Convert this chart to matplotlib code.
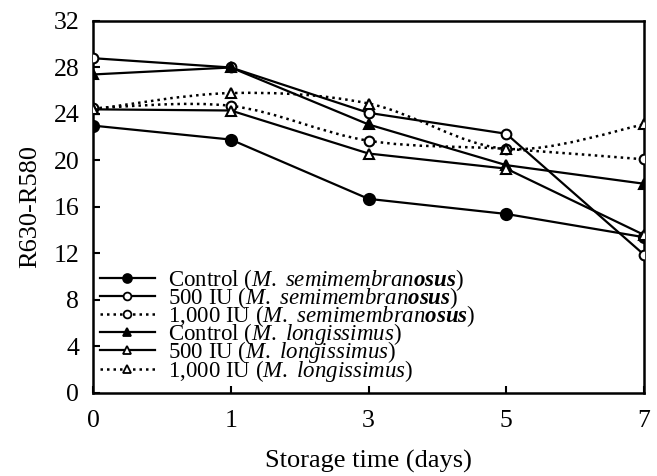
import numpy as np
import matplotlib.pyplot as plt
from matplotlib.path import Path
from matplotlib.patches import PathPatch
from matplotlib.lines import Line2D

plt.rcParams['font.family'] = 'Liberation Serif'
plt.rcParams['mathtext.fontset'] = 'custom'
plt.rcParams['mathtext.rm'] = 'Liberation Serif'
plt.rcParams['mathtext.it'] = 'Liberation Serif:italic'
plt.rcParams['mathtext.bf'] = 'Liberation Serif:bold'
plt.rcParams['mathtext.bfit'] = 'Liberation Serif:italic:bold'

# Storage days (plotted as equally spaced categories)
days = ['0', '1', '3', '5', '7']

ctrl_semi = [23.0, 21.8, 16.7, 15.4, 13.4]
iu500_semi = [28.8, 28.0, 24.1, 22.3, 11.9]
iu1000_semi = [24.5, 24.7, 21.7, 21.0, 20.1]
ctrl_long = [27.4, 28.0, 23.1, 19.6, 18.0]
iu500_long = [24.4, 24.3, 20.6, 19.3, 13.6]
iu1000_long = [24.4, 25.8, 24.9, 21.0, 23.1]

semi = r'($\mathit{M.}$ $\mathit{semimembran}\mathbfit{osus}$)'
longi = r'($\mathit{M.}$ $\mathit{longissimus}$)'
labels = ['Control ' + semi, '500 IU ' + semi, '1,000 IU ' + semi,
          'Control ' + longi, '500 IU ' + longi, '1,000 IU ' + longi]

series = [ctrl_semi, iu500_semi, iu1000_semi, ctrl_long, iu500_long, iu1000_long]
markers = ['o', 'o', 'o', '^', '^', '^']
filled = [True, False, False, True, False, False]
dotted = [False, False, True, False, False, True]

fig = plt.figure(figsize=(6.57, 4.76), dpi=100)
ax = fig.add_axes([0.1416, 0.1744, 0.8386, 0.7815])

x = np.arange(len(days))
dots = (0, (1, 1.6))


def smooth_path(xs, ys):
    # Excel-style smoothed line as cubic bezier segments
    pts = np.column_stack([xs, ys]).astype(float)
    n = len(pts)
    verts = [pts[0]]
    codes = [Path.MOVETO]
    for i in range(n - 1):
        p_prev = pts[max(i - 1, 0)]
        p_next2 = pts[min(i + 2, n - 1)]
        c1 = pts[i] + (pts[i + 1] - p_prev) / 6
        c2 = pts[i + 1] - (p_next2 - pts[i]) / 6
        verts += [c1, c2, pts[i + 1]]
        codes += [Path.CURVE4] * 3
    return Path(verts, codes)


handles = []
for y, m, f, d, lab in zip(series, markers, filled, dotted, labels):
    ms = 7 if m == 'o' else 7.5
    if f:
        ms = 8 if m == 'o' else 7.5
    fc = 'black' if f else 'white'
    ls = dots if d else '-'
    if d:
        patch = PathPatch(smooth_path(x, y), facecolor='none', edgecolor='black',
                          lw=1.8, linestyle=dots, zorder=2)
        ax.add_patch(patch)
        ax.plot(x, y, ls='none', marker=m, ms=ms, mfc=fc, mec='black',
                mew=1.5, zorder=3)
    else:
        ax.plot(x, y, ls='-', color='black', lw=1.6, marker=m, ms=ms,
                mfc=fc, mec='black', mew=1.5, zorder=3)
    handles.append(Line2D([], [], color='black', lw=1.6 if not d else 1.8,
                          ls=ls, marker=m, ms=ms * 0.8, mfc=fc, mec='black',
                          mew=1.3, label=lab))

ax.set_xlim(0, 4)
ax.set_ylim(0, 32)
ax.set_xticks(x)
ax.set_xticklabels(days)
ax.set_yticks(np.arange(0, 33, 4))
ax.tick_params(direction='in', length=5, width=1.5, labelsize=18.5)
ax.tick_params(axis='x', pad=12)
ax.tick_params(axis='y', pad=10)
for s in ax.spines.values():
    s.set_linewidth(1.8)

ax.set_xlabel('Storage time (days)', fontsize=19, labelpad=13)
ax.set_ylabel('R630-R580', fontsize=19, labelpad=9)

ax.legend(handles=handles, loc='lower left', bbox_to_anchor=(0.012, 0.025),
          frameon=False, fontsize=16.5, handlelength=2.4, handletextpad=0.6,
          labelspacing=-0.34, borderaxespad=0, borderpad=0)

fig.savefig('out.png', dpi=100)
